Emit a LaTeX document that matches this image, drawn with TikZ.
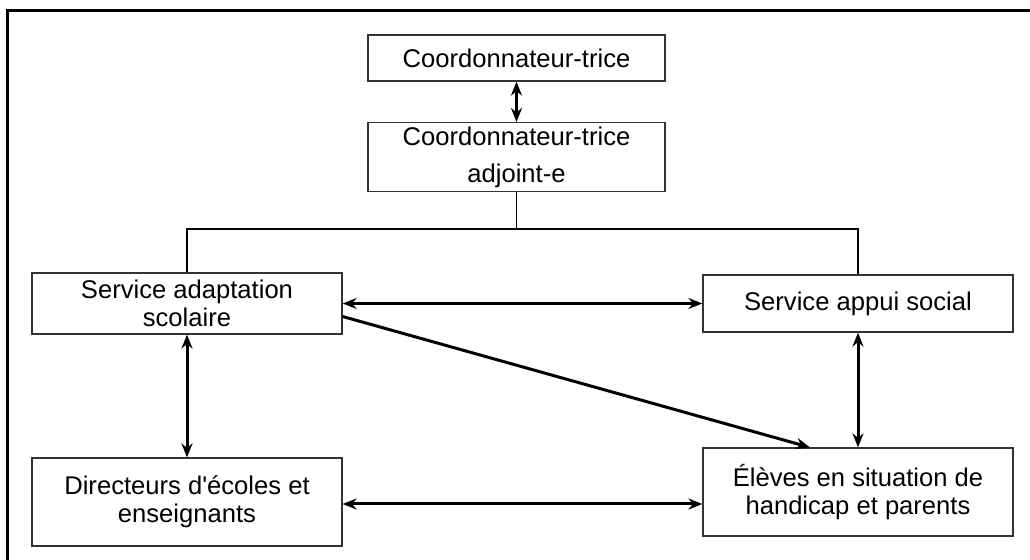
\documentclass[tikz,border=0pt]{standalone}
\usepackage{fontspec}
\setmainfont{Liberation Sans}
\usepackage{tikz}
\usetikzlibrary{arrows.meta,positioning,calc}

\tikzstyle{boite}=[draw=black!80, line width=0.6pt, inner sep=2pt, align=center,
    font=\fontsize{12.8}{13.8}\selectfont]
\tikzstyle{lien}=[line width=1.5pt, {Stealth[length=7pt,width=5.5pt]}-{Stealth[length=7pt,width=5.5pt]}]

\begin{document}
\begin{tikzpicture}[x=0.5pt, y=-0.5pt]

\useasboundingbox (0,0) rectangle (1030,560);
\draw[line width=1.5pt] (7,560) -- (7,11) -- (1030,11);

% direction
\node[boite, minimum width=148.5pt, minimum height=23pt] (coord) at (516.5,58) {Coordonnateur-trice};
\node[boite, minimum width=148.5pt, minimum height=30pt, font=\fontsize{12.8}{18.5}\selectfont] (adj) at (516.5,157) {Coordonnateur-trice\\adjoint-e};

% services
\node[boite, minimum width=155pt, minimum height=30.5pt] (sas) at (187,303.5) {Service adaptation\\scolaire};
\node[boite, minimum width=155pt, minimum height=28.5pt] (sap) at (858,303.5) {Service appui social};

% terrain
\node[boite, minimum width=155pt, minimum height=44pt] (dir) at (187,502) {Directeurs d\textquotesingle écoles et\\enseignants};
\node[boite, minimum width=155pt, minimum height=44pt] (elv) at (858,492) {Élèves en situation de\\handicap et parents};

% liens
\draw[lien] (coord) -- (adj);
\coordinate (split) at (516.5,229);
\draw[line width=0.9pt] (adj.south) -- (split) -| (sas.north);
\draw[line width=0.9pt] (split) -| (sap.north);

\draw[lien] (sas) -- (sap);
\draw[lien] (sas) -- (dir);
\draw[lien] (sap) -- (elv);
\draw[lien] ([yshift=-1pt]dir.east) -- ([yshift=-1pt]elv.west |- dir.east);
\draw[line width=1.5pt, -{Stealth[length=7pt,width=5.5pt]}] ([yshift=-6.5pt]sas.east) -- ([xshift=-24pt]elv.north);

\end{tikzpicture}
\end{document}
